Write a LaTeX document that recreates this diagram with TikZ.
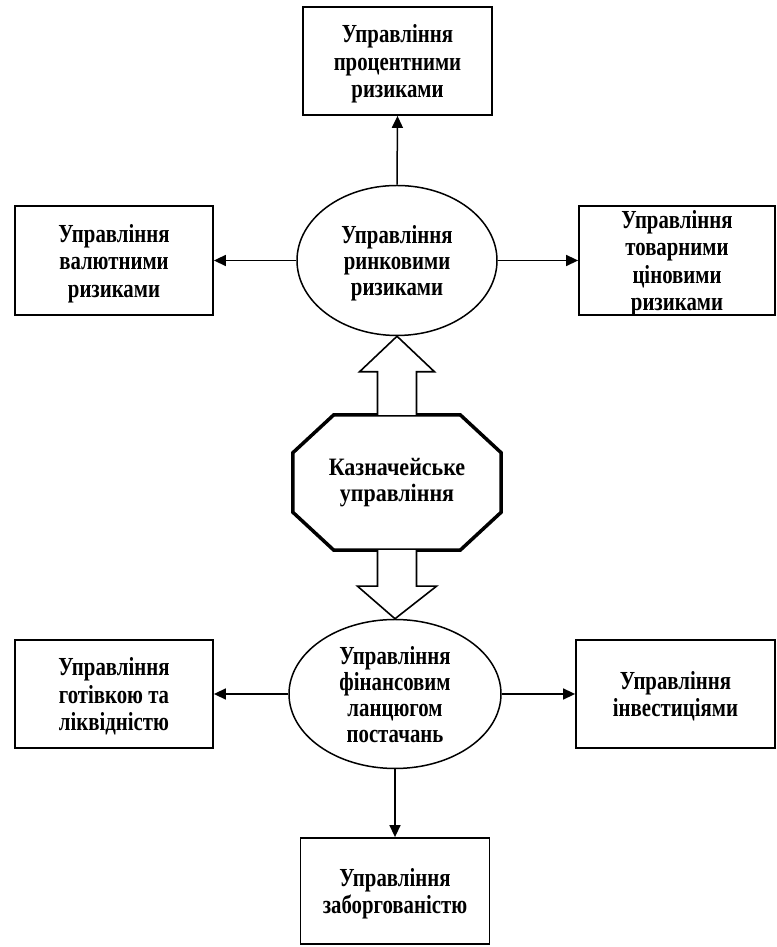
\documentclass[tikz,border=0pt]{standalone}
\usepackage{fontspec}
\setmainfont{Liberation Serif}
\newfontfamily\boxfont[FakeStretch=0.8]{Liberation Serif Bold}
\newfontfamily\octfont[FakeStretch=0.88]{Liberation Serif Bold}
\usetikzlibrary{arrows.meta,calc,shapes.geometric}
\begin{document}
\begin{tikzpicture}[x=1pt,y=1pt,
  boxnode/.style={draw,line width=1.8pt,rectangle,inner sep=0pt,align=center,
    text depth=0pt,font=\boxfont\fontsize{26}{27.5}\selectfont},
  ellnode/.style={draw,line width=1.5pt,ellipse,inner sep=0pt,align=center,
    text depth=0pt,font=\boxfont\fontsize{26}{26}\selectfont},
  octnode/.style={inner sep=0pt,align=center,
    font=\octfont\fontsize{25}{26}\selectfont},
  conn/.style={line width=1.5pt,-{Triangle[length=12pt,width=11pt]}},
  hollow/.style={draw,fill=white,line width=1.6pt,line join=miter}
]
\useasboundingbox (0,0) rectangle (776,947);

% nodes
\node[boxnode,minimum width=189pt,minimum height=108pt] (top) at (397.5,886)
  {Управління\\процентними\\ризиками};
\node[ellnode,minimum width=200pt,minimum height=150pt] (ellU) at (397,686.5)
  {Управління\\ринковими\\ризиками};
\node[boxnode,minimum width=198pt,minimum height=109pt] (lu) at (114,686.5)
  {Управління\\валютними\\ризиками};
\node[boxnode,minimum width=196pt,minimum height=109pt] (ru) at (677,686.5)
  {Управління\\товарними\\ціновими\\ризиками};
\node[octnode,minimum width=208pt,minimum height=135pt] (oct) at (397,464.5)
  {Казначейське\\управління};
\node[ellnode,minimum width=212pt,minimum height=149pt] (ellD) at (395,253)
  {Управління\\фінансовим\\ланцюгом\\постачань};
\node[boxnode,minimum width=198pt,minimum height=108pt] (ld) at (114,253)
  {Управління\\готівкою та\\ліквідністю};
\node[boxnode,minimum width=199pt,minimum height=108pt] (rd) at (675.5,253)
  {Управління\\інвестиціями};
\node[boxnode,minimum width=189pt,minimum height=106pt] (bot) at (395,56)
  {Управління\\заборгованістю};

% octagon outline
\draw[line width=3.5pt,line join=miter]
  ($(oct.north west)+(41,0)$) -- ($(oct.north east)+(-41,0)$)
  -- ($(oct.north east)+(0,-38)$) -- ($(oct.south east)+(0,38)$)
  -- ($(oct.south east)+(-41,0)$) -- ($(oct.south west)+(41,0)$)
  -- ($(oct.south west)+(0,38)$) -- ($(oct.north west)+(0,-38)$) -- cycle;

% hollow arrows
\draw[hollow] ($(oct.north)+(-19.5,0)$) -- ($(oct.north)+(-19.5,43)$)
  -- ($(oct.north)+(-37.5,43)$) -- (ellU.south) -- ($(oct.north)+(37.5,43)$)
  -- ($(oct.north)+(19.5,43)$) -- ($(oct.north)+(19.5,0)$);
\draw[hollow] ($(oct.south)+(-19.5,0)$) -- ($(oct.south)+(-19.5,-36)$)
  -- ($(oct.south)+(-39.5,-36)$) -- (ellD.north) -- ($(oct.south)+(39.5,-36)$)
  -- ($(oct.south)+(19.5,-36)$) -- ($(oct.south)+(19.5,0)$);

% connectors
\draw[conn] (ellU.north) -- (top.south);
\draw[conn] (ellU.west) -- (lu.east);
\draw[conn] (ellU.east) -- (ru.west);
\draw[conn] (ellD.west) -- (ld.east);
\draw[conn] (ellD.east) -- (rd.west);
\draw[conn] (ellD.south) -- (bot.north);
\end{tikzpicture}
\end{document}
